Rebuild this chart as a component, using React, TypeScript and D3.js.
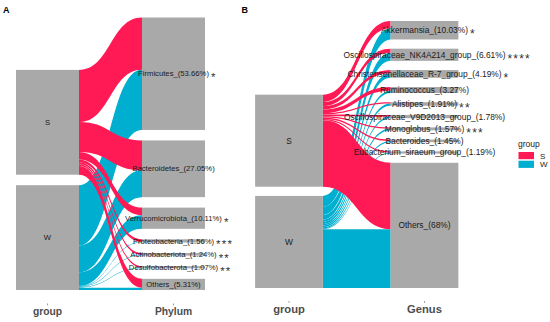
import React from "react";
import * as d3 from "d3";

const WIDTH = 550;
const HEIGHT = 322;
const RED = "#FF1A55";
const BLUE = "#00AECF";
const GREY = "#A9A9A9";
const FONT = '"Liberation Sans", Arial, sans-serif';

const groups = ["S", "W"];
const groupColors = [RED, BLUE];

// panel A - phylum
const phyla = ["Firmicutes", "Bacteroidetes", "Verrucomicrobiota", "Proteobacteria", "Actinobacteriota", "Desulfobacterota", "Others"];
const phylumPct = ["53.66%", "27.05%", "10.11%", "1.56%", "1.24%", "1.07%", "5.31%"];
const phylumStars = ["*", "", "*", "***", "**", "**", ""];
const phylumS = [49.8, 28.5, 7.2, 2.6, 1.9, 1.6, 8.4];
const phylumW = [57.5, 25.6, 13.0, 0.52, 0.58, 0.54, 2.26];

// panel B - genus
const genera = [
  "Akkermansia",
  "Oscillospiraceae_NK4A214_group",
  "Christensenellaceae_R-7_group",
  "Ruminococcus",
  "Alistipes",
  "Oscillospiraceae_V9D2013_group",
  "Monoglobus",
  "Bacteroides",
  "Eubacterium_siraeum_group",
  "Others",
];
const genusPct = ["10.03%", "6.61%", "4.19%", "3.27%", "1.91%", "1.78%", "1.57%", "1.45%", "1.19%", "68%"];
const genusStars = ["*", "****", "*", "", "**", "", "***", "", "", ""];
const genusS = [8, 4.5, 3.5, 4.0, 1.5, 2.0, 1.2, 1.7, 1.5, 72.1];
const genusW = [12.06, 8.72, 4.88, 2.54, 2.32, 1.56, 1.94, 1.2, 0.88, 63.9];

const measureCtx = typeof document !== "undefined" ? document.createElement("canvas").getContext("2d") : null;
const textWidth = (s: string, size: number) => {
  if (!measureCtx) return s.length * size * 0.5;
  measureCtx.font = `${size}px "Liberation Sans", Arial, sans-serif`;
  return measureCtx.measureText(s).width;
};

type Props = {
  left: number;
  right: number;
  yTop: number;
  yBottom: number;
  axisTitle: string;
  names: string[];
  pct: string[];
  stars: string[];
  values: number[][];
  labelSize: number;
  starSize: number;
  titleSize: number;
  titleY: number;
  tickY: number;
};

const Alluvial = ({left, right, yTop, yBottom, axisTitle, names, pct, stars, values, labelSize, starSize, titleSize, titleY, tickY}: Props) => {
  const total = d3.sum(values.flat());
  const gap = total * 0.05;
  const colMax = total + (names.length - 1) * gap;
  const y = d3.scaleLinear().domain([0, colMax]).range([yBottom, yTop]);
  const x = d3.scalePoint().domain(["group", axisTitle]).range([left, right]);
  const half = (right - left) / 4;
  const x0 = x("group")! + half;
  const x1 = x(axisTitle)! - half;
  const xm = (x0 + x1) / 2;

  // group column stacking
  const gTot = values.map((v) => d3.sum(v));
  const gHeight = total + (groups.length - 1) * gap;
  const gTop: number[] = [];
  let acc = 0;
  gTot.forEach((v, i) => {
    gTop.push(gHeight - acc - i * gap);
    acc += v;
  });

  // target column stacking
  const tTot = names.map((_, t) => values[0][t] + values[1][t]);
  const tTop: number[] = [];
  acc = 0;
  tTot.forEach((v, i) => {
    tTop.push(colMax - acc - i * gap);
    acc += v;
  });

  const tOff = names.map(() => 0);
  const flows: {g: number; t: number; d: string}[] = [];
  values.forEach((vals, g) => {
    let gOff = 0;
    vals.forEach((v, t) => {
      const a0 = gTop[g] - gOff;
      const b0 = a0 - v;
      const a1 = tTop[t] - tOff[t];
      const b1 = a1 - v;
      gOff += v;
      tOff[t] += v;
      const p = d3.path();
      p.moveTo(x0, y(a0));
      p.bezierCurveTo(xm, y(a0), xm, y(a1), x1, y(a1));
      p.lineTo(x1, y(b1));
      p.bezierCurveTo(xm, y(b1), xm, y(b0), x0, y(b0));
      p.closePath();
      flows.push({g, t, d: p.toString()});
    });
  });
  // W drawn first, S on top
  const ordered = [...flows.filter((f) => f.g === 1), ...flows.filter((f) => f.g === 0)];

  return (
    <g fontFamily={FONT}>
      {ordered.map((f, i) => (
        <path key={i} d={f.d} fill={groupColors[f.g]} />
      ))}
      {groups.map((g, i) => (
        <rect key={g} x={x("group")! - half} y={y(gTop[i])} width={half * 2} height={y(gTop[i] - gTot[i]) - y(gTop[i])} fill={GREY} />
      ))}
      {names.map((n, i) => (
        <rect key={n} x={x(axisTitle)! - half} y={y(tTop[i])} width={half * 2} height={y(tTop[i] - tTot[i]) - y(tTop[i])} fill={GREY} />
      ))}
      {groups.map((g, i) => (
        <text key={g} x={x("group")} y={y(gTop[i] - gTot[i] / 2)} dy="0.35em" textAnchor="middle" fontSize={labelSize} fill="#1a1a1a">
          {g}
        </text>
      ))}
      {names.map((n, i) => {
        const label = `${n}_(${pct[i]})`;
        const cy = y(tTop[i] - tTot[i] / 2);
        const end = x(axisTitle)! + textWidth(label, labelSize) / 2;
        return (
          <g key={n}>
            <text x={x(axisTitle)} y={cy} dy="0.35em" textAnchor="middle" fontSize={labelSize} fill="#1a1a1a">
              {label}
            </text>
            {stars[i] && (
              <text x={end + 2} y={cy + starSize * 0.57 + 1} fontSize={starSize} letterSpacing={1.2} fill="#333">
                {stars[i]}
              </text>
            )}
          </g>
        );
      })}
      {["group", axisTitle].map((a) => (
        <g key={a}>
          <line x1={x(a)} x2={x(a)} y1={tickY} y2={tickY + 1.8} stroke="#555" strokeWidth={0.6} />
          <text x={x(a)} y={titleY} textAnchor="middle" fontSize={titleSize} fontWeight="bold" fill="#4D4D4D">
            {a}
          </text>
        </g>
      ))}
    </g>
  );
};

export default function App() {
  return (
    <svg width={WIDTH} height={HEIGHT} style={{position: "absolute", left: 0, top: 0, background: "#fff"}}>
      <text x={3} y={12.5} fontFamily={FONT} fontWeight="bold" fontSize={9}>A</text>
      <text x={241.5} y={12.5} fontFamily={FONT} fontWeight="bold" fontSize={9}>B</text>
      <Alluvial
        left={47.5}
        right={173.5}
        yTop={17.5}
        yBottom={290}
        axisTitle="Phylum"
        names={phyla}
        pct={phylumPct}
        stars={phylumStars}
        values={[phylumS, phylumW]}
        labelSize={7.7}
        starSize={11.5}
        titleSize={10.3}
        titleY={315}
        tickY={303.5}
      />
      <Alluvial
        left={289}
        right={424.5}
        yTop={21}
        yBottom={288}
        axisTitle="Genus"
        names={genera}
        pct={genusPct}
        stars={genusStars}
        values={[genusS, genusW]}
        labelSize={8.4}
        starSize={12}
        titleSize={11.2}
        titleY={312.5}
        tickY={301}
      />
      <g fontFamily={FONT} fill="#1a1a1a">
        <text x={518} y={147} fontSize={8.5}>group</text>
        {groups.map((g, i) => (
          <g key={g}>
            <rect x={518.5} y={152 + i * 8.7} width={15.5} height={7.2} fill={groupColors[i]} />
            <text x={540} y={158.5 + i * 8.7} fontSize={8}>{g}</text>
          </g>
        ))}
      </g>
    </svg>
  );
}
